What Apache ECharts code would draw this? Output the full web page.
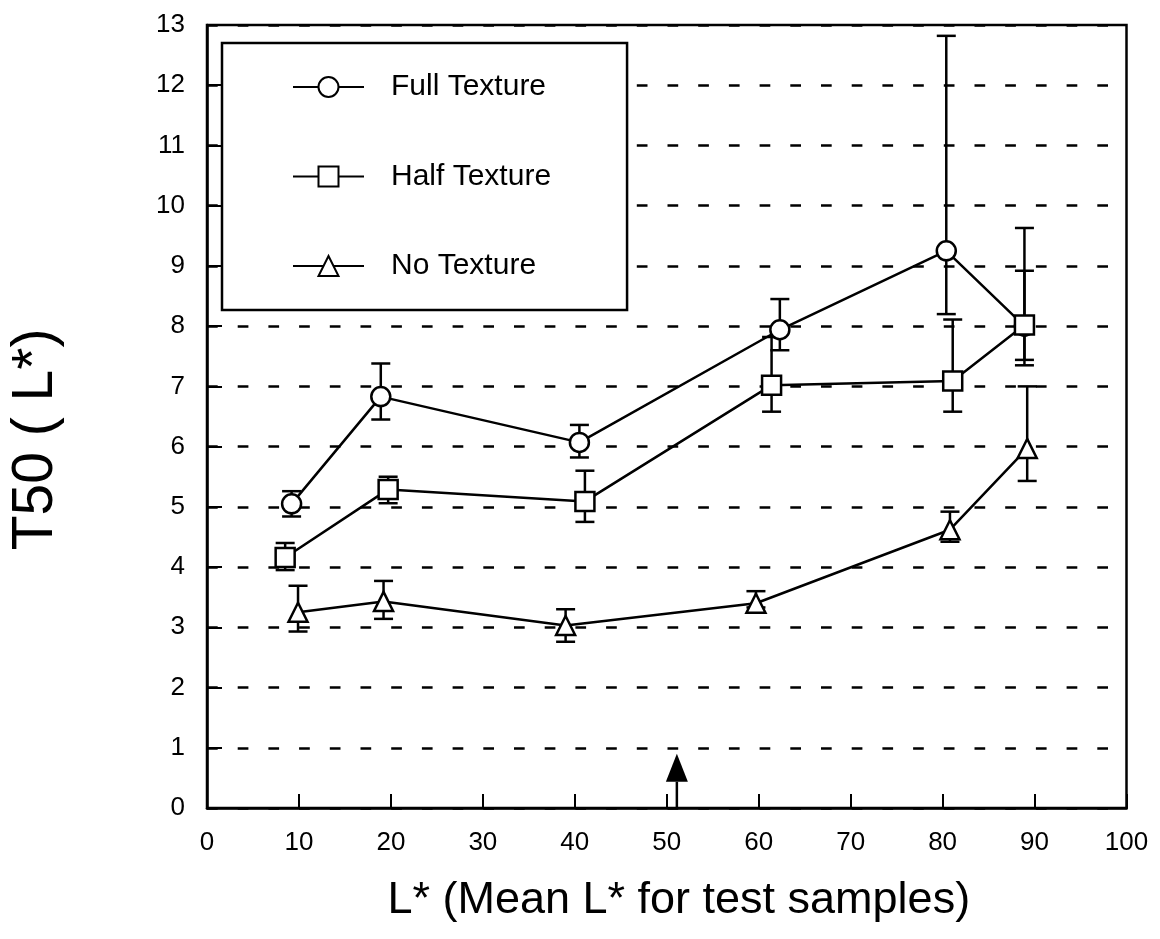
<!DOCTYPE html>
<html>
<head>
<meta charset="utf-8">
<script src="https://cdn.jsdelivr.net/npm/echarts@6/dist/echarts.min.js"></script>
<style>
html,body{margin:0;padding:0;background:#fff;}
#chart{width:1160px;height:939px;}
</style>
</head>
<body>
<div id="chart"></div>
<script>
// ---- data ----
const seriesNames = ['Full Texture', 'Half Texture', 'No Texture'];

const fullX    = [9.2, 18.9, 40.5, 62.3, 80.4, 88.9];
const fullY    = [5.05, 6.83, 6.07, 7.94, 9.25, 8.00];
const fullHigh = [5.26, 7.38, 6.36, 8.45, 12.82, 9.63];
const fullLow  = [4.84, 6.45, 5.82, 7.60, 8.20, 7.44];

const halfX    = [8.5, 19.7, 41.1, 61.4, 81.1, 88.9];
const halfY    = [4.16, 5.29, 5.09, 7.02, 7.09, 8.02];
const halfHigh = [4.40, 5.50, 5.60, 7.82, 8.11, 8.92];
const halfLow  = [3.95, 5.06, 4.75, 6.58, 6.58, 7.35];

const noX      = [9.9, 19.2, 39.0, 59.7, 80.8, 89.2];
const noY      = [3.25, 3.43, 3.03, 3.40, 4.62, 5.97];
const noHigh   = [3.69, 3.77, 3.30, 3.60, 4.92, 7.00];
const noLow    = [2.93, 3.14, 2.76, 3.33, 4.42, 5.43];

const arrowX = 51.1;
const arrowTop = 0.9;

const xTitle = 'L* (Mean L* for test samples)';
const yTitle = 'T50 ( L*)';

// ---- helpers ----
const FONT = '"Liberation Sans", Arial, sans-serif';
function pts(xs, ys) { return xs.map((x, i) => [x, ys[i]]); }
function errs(xs, lo, hi) { return xs.map((x, i) => [x, lo[i], hi[i]]); }

function errRender(params, api) {
  const x = api.value(0), lo = api.value(1), hi = api.value(2);
  const pLo = api.coord([x, lo]), pHi = api.coord([x, hi]);
  const w = 9.5;
  const style = { stroke: '#000', lineWidth: 2.5, fill: null };
  return {
    type: 'group',
    children: [
      { type: 'line', shape: { x1: pLo[0], y1: pLo[1], x2: pHi[0], y2: pHi[1] }, style: style },
      { type: 'line', shape: { x1: pLo[0] - w, y1: pLo[1], x2: pLo[0] + w, y2: pLo[1] }, style: style },
      { type: 'line', shape: { x1: pHi[0] - w, y1: pHi[1], x2: pHi[0] + w, y2: pHi[1] }, style: style }
    ]
  };
}

function arrowRender(params, api) {
  const x = api.value(0), y0 = api.value(1), y1 = api.value(2);
  const pB = api.coord([x, y0]), pT = api.coord([x, y1]);
  const hh = 28, hw = 11;
  return {
    type: 'group',
    children: [
      { type: 'line', shape: { x1: pB[0], y1: pB[1], x2: pT[0], y2: pT[1] + hh }, style: { stroke: '#000', lineWidth: 2.5 } },
      { type: 'polygon', shape: { points: [[pT[0], pT[1]], [pT[0] - hw, pT[1] + hh], [pT[0] + hw, pT[1] + hh]] }, style: { fill: '#000' } }
    ]
  };
}

function lineSeries(name, data, symbol, z) {
  return {
    name: name,
    type: 'line',
    data: data,
    symbol: symbol,
    symbolSize: 19,
    showAllSymbol: true,
    z: z,
    lineStyle: { color: '#000', width: 2.5 },
    itemStyle: { color: '#fff', borderColor: '#000', borderWidth: 2.5 },
    emphasis: { disabled: true },
    animation: false
  };
}

function errSeries(data) {
  return {
    type: 'custom',
    renderItem: errRender,
    data: data,
    z: 2,
    silent: true,
    animation: false
  };
}

const chart = echarts.init(document.getElementById('chart'));
chart.setOption({
  backgroundColor: '#fff',
  animation: false,
  textStyle: { fontFamily: FONT, color: '#000' },
  grid: {
    left: 205, top: 25, right: 33.5, bottom: 131,
    show: true, borderColor: '#000', borderWidth: 2.5, backgroundColor: 'transparent'
  },
  legend: {
    data: seriesNames,
    orient: 'vertical',
    left: 222,
    top: 43,
    padding: [29, 76, 29, 70],
    itemWidth: 71,
    itemHeight: 25,
    itemGap: 59.5,
    backgroundColor: '#fff',
    borderColor: '#000',
    borderWidth: 2.5,
    borderRadius: 0,
    textStyle: { fontFamily: FONT, fontSize: 30, color: '#000', lineHeight: 30, padding: [0, 0, 0, 22] },
    selectedMode: false
  },
  xAxis: {
    type: 'value',
    min: 0, max: 100, interval: 10,
    name: xTitle,
    nameLocation: 'middle',
    nameGap: 70,
    nameTextStyle: { fontFamily: FONT, fontSize: 45, color: '#000', padding: [0, 0, 0, 24] },
    axisLine: { show: true, lineStyle: { color: '#000', width: 2.5 } },
    axisTick: { show: true, inside: true, length: 14, lineStyle: { color: '#000', width: 2 } },
    axisLabel: { fontFamily: FONT, fontSize: 26, color: '#000', margin: 22 },
    splitLine: { show: false }
  },
  yAxis: {
    type: 'value',
    min: 0, max: 13, interval: 1,
    name: yTitle,
    nameLocation: 'middle',
    nameGap: 142,
    nameRotate: 90,
    nameTextStyle: { fontFamily: FONT, fontSize: 57, color: '#000', padding: [0, 46, 0, 0] },
    axisLine: { show: true, lineStyle: { color: '#000', width: 2.5 } },
    axisTick: { show: true, inside: true, length: 15, lineStyle: { color: '#000', width: 2 } },
    axisLabel: { fontFamily: FONT, fontSize: 26, color: '#000', margin: 22 },
    splitLine: { show: true, lineStyle: { color: '#000', width: 2.5, type: [10.7, 20] } }
  },
  series: [
    errSeries(errs(fullX, fullLow, fullHigh)),
    errSeries(errs(halfX, halfLow, halfHigh)),
    errSeries(errs(noX, noLow, noHigh)),
    lineSeries(seriesNames[0], pts(fullX, fullY), 'circle', 3),
    lineSeries(seriesNames[1], pts(halfX, halfY), 'rect', 4),
    lineSeries(seriesNames[2], pts(noX, noY), 'triangle', 5),
    {
      type: 'custom',
      renderItem: arrowRender,
      data: [[arrowX, 0, arrowTop]],
      z: 6,
      silent: true,
      animation: false
    }
  ]
});
</script>
</body>
</html>
